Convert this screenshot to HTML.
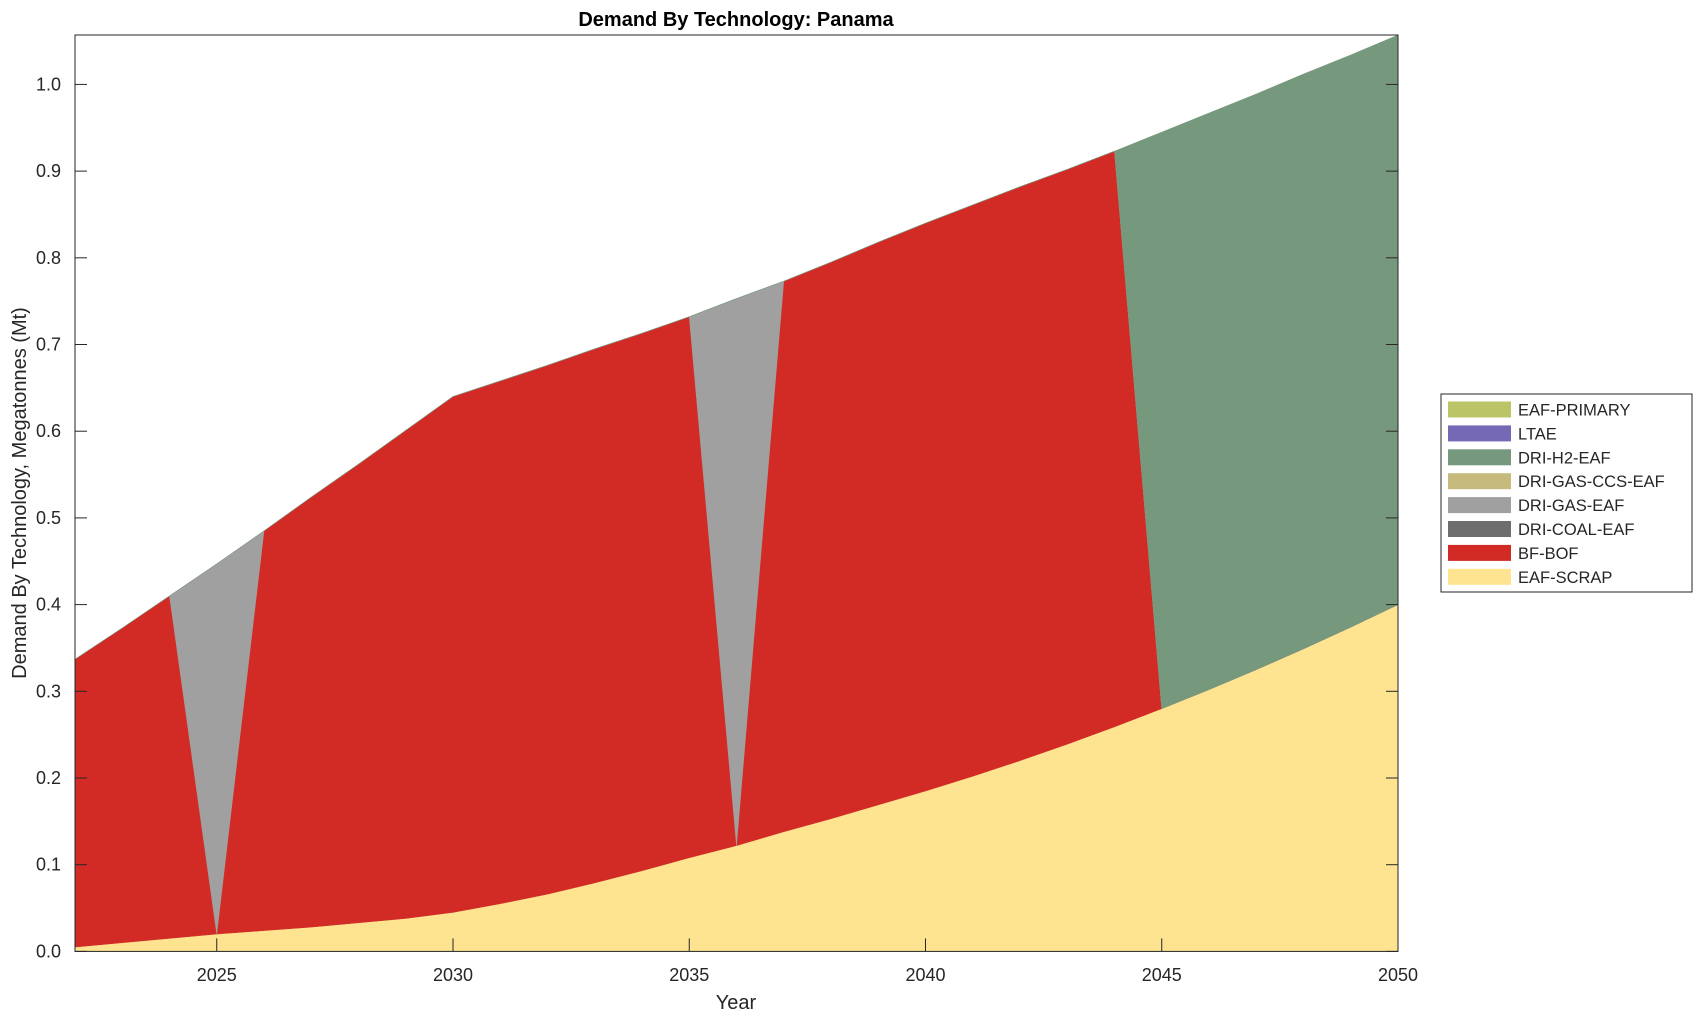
<!DOCTYPE html>
<html><head><meta charset="utf-8"><style>
body{margin:0;background:#fff;}
svg text{font-family:"Liberation Sans",Arial,sans-serif;fill:#262626;}
</style></head><body>
<svg id="chart" width="1703" height="1020" xmlns="http://www.w3.org/2000/svg">
<text x="736" y="26" text-anchor="middle" font-size="20" font-weight="bold" fill="#000" style="fill:#000">Demand By Technology: Panama</text>
<g id="plot"></g>
<text x="736" y="1009" text-anchor="middle" font-size="20">Year</text>
<text transform="translate(26,493) rotate(-90)" text-anchor="middle" font-size="20">Demand By Technology, Megatonnes (Mt)</text>
<g id="legend"></g>
</svg>
<script>
const years=[2022,2023,2024,2025,2026,2027,2028,2029,2030,2031,2032,2033,2034,2035,2036,2037,2038,2039,2040,2041,2042,2043,2044,2045,2046,2047,2048,2049,2050];
const scrap=[0.005,0.010,0.015,0.020,0.024,0.028,0.033,0.038,0.045,0.055,0.066,0.079,0.093,0.108,0.122,0.138,0.153,0.169,0.185,0.202,0.220,0.239,0.259,0.280,0.302,0.325,0.349,0.374,0.400];
const bfbof=[0.332,0.363,0.395,0,0.461,0.496,0.529,0.563,0.595,0.603,0.610,0.616,0.620,0.624,0,0.635,0.642,0.649,0.655,0.659,0.662,0.663,0.664,0,0,0,0,0,0];
const dricoal=years.map(()=>0);
const drigas=[0,0,0,0.427,0,0,0,0,0,0,0,0,0,0,0.631,0,0,0,0,0,0,0,0,0,0,0,0,0,0];
const drigasccs=years.map(()=>0);
const drih2=[0,0,0,0,0,0,0,0,0,0,0,0,0,0,0,0,0,0,0,0,0,0,0,0.665,0.665,0.664,0.663,0.660,0.657];
const ltae=years.map(()=>0);
const eafprimary=years.map(()=>0);
const seriesNames=["EAF-SCRAP","BF-BOF","DRI-COAL-EAF","DRI-GAS-EAF","DRI-GAS-CCS-EAF","DRI-H2-EAF","LTAE","EAF-PRIMARY"];
const seriesData=[scrap,bfbof,dricoal,drigas,drigasccs,drih2,ltae,eafprimary];
const colors=["#fee391","#d22b25","#6e6e6e","#a0a0a0","#c6bb7c","#76997e","#7569b5","#bcc468"];
const yTicks=[0,0.1,0.2,0.3,0.4,0.5,0.6,0.7,0.8,0.9,1.0];
const xTicks=[2025,2030,2035,2040,2045,2050];
const L=75,R=1398,T=35,B=951.4,XMIN=2022,XMAX=2050,YMAX=1.057;
const sx=v=>L+(v-XMIN)/(XMAX-XMIN)*(R-L);
const sy=v=>B-v/YMAX*(B-T);
const NS="http://www.w3.org/2000/svg";
const plot=document.getElementById('plot');
function mk(t,a,p){const e=document.createElementNS(NS,t);for(const k in a)e.setAttribute(k,a[k]);(p||plot).appendChild(e);return e;}
let base=years.map(()=>0);
seriesData.forEach((s,i)=>{
  const top=base.map((b,j)=>b+s[j]);
  if(s.some(v=>v>0)){
    let d=years.map((y,j)=>(j?'L':'M')+sx(y)+','+sy(top[j])).join('');
    for(let j=years.length-1;j>=0;j--)d+='L'+sx(years[j])+','+sy(base[j]);
    const p=mk('path',{d:d+'Z',fill:colors[i],stroke:colors[i],'stroke-width':0.5});
    
    
  }
  base=top;
});
mk('rect',{x:L,y:T,width:R-L,height:B-T,fill:'none',stroke:'#262626','stroke-width':1});
yTicks.forEach(v=>{
  const y=sy(v);
  mk('line',{x1:L,x2:L+12,y1:y,y2:y,stroke:'#262626'});
  mk('line',{x1:R-12,x2:R,y1:y,y2:y,stroke:'#262626'});
  const t=mk('text',{x:61,y:y+6,'text-anchor':'end','font-size':18});
  t.textContent=v.toFixed(1);
  
  
});
xTicks.forEach(v=>{
  const x=sx(v);
  mk('line',{x1:x,x2:x,y1:B,y2:B-13,stroke:'#262626'});
  const t=mk('text',{x:x,y:981,'text-anchor':'middle','font-size':18});
  t.textContent=v;
  
  
});
const lg=document.getElementById('legend');
mk('rect',{x:1441,y:394,width:251,height:198,fill:'#fff',stroke:'#262626'},lg);
for(let k=0;k<8;k++){
  const i=7-k,y=409.5+k*23.9;
  const r=mk('rect',{x:1448,y:y-8,width:63,height:16,fill:colors[i]},lg);
  
  
  const t=mk('text',{x:1518,y:y+6,'font-size':16.5,fill:'#000'},lg);
  t.textContent=seriesNames[i];
  
  
}
</script>
</body></html>
